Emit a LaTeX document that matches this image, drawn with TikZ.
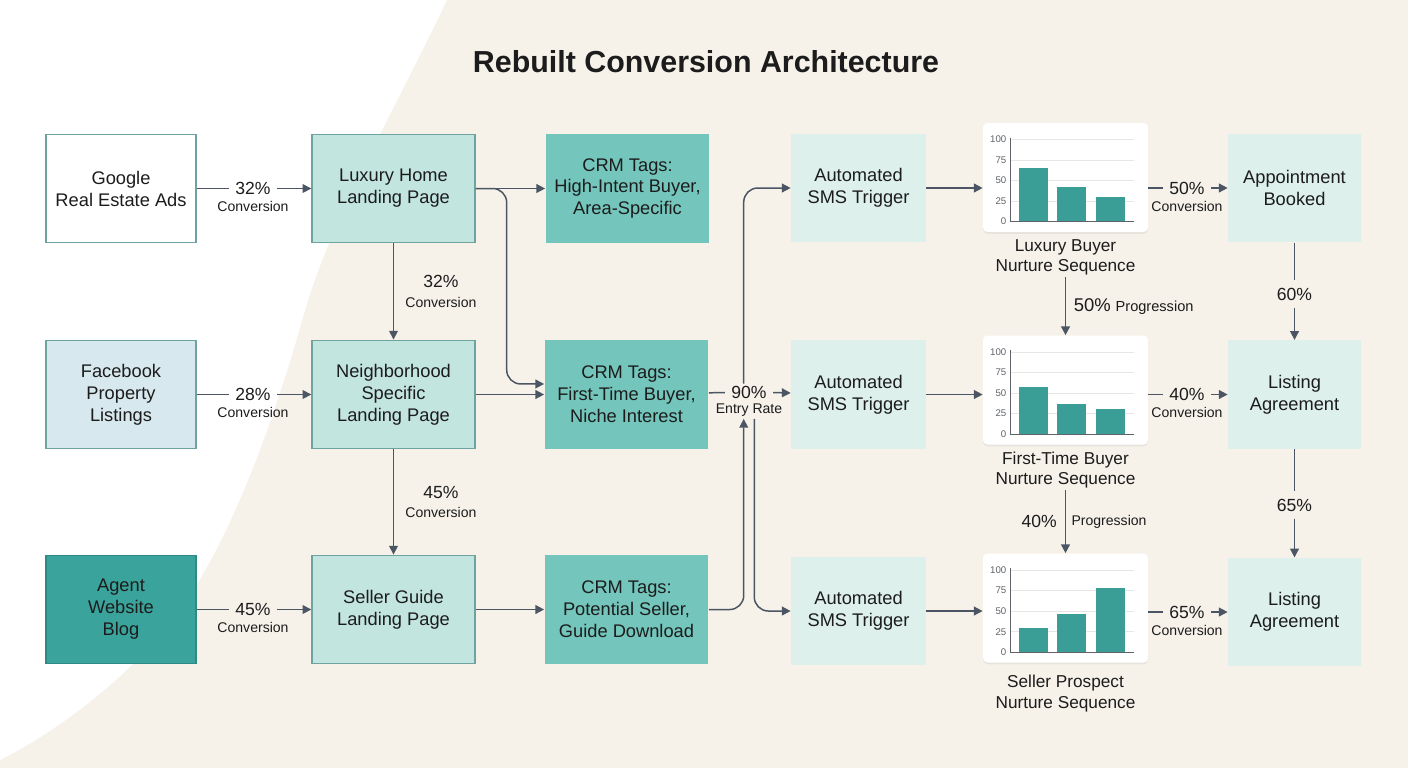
\documentclass[tikz,border=0pt]{standalone}
\usepackage{fontspec}
\setmainfont{Liberation Sans}
\usetikzlibrary{positioning,arrows.meta,shadows}

\definecolor{bgbeige}{HTML}{F6F2EA}
\definecolor{edgeteal}{HTML}{6FA3A0}
\definecolor{fbblue}{HTML}{D7E8EE}
\definecolor{agentteal}{HTML}{3AA39B}
\definecolor{agentedge}{HTML}{2E8A83}
\definecolor{landfill}{HTML}{C3E5E0}
\definecolor{crmfill}{HTML}{74C5BC}
\definecolor{palefill}{HTML}{DDF0EC}
\definecolor{arrowgray}{HTML}{4B5563}
\definecolor{barteal}{HTML}{3A9E96}
\definecolor{inkblack}{HTML}{1C1C1C}
\definecolor{axisgray}{HTML}{5F6368}
\definecolor{gridgray}{HTML}{E6E6E6}

% bar chart inside a card node: #1 card, #2-#4 bar values (0-100)
\newcommand{\nurturebars}[4]{%
  \begin{scope}[shift={(#1.north west)}]
    \foreach \v in {25,50,75,100}
      \draw[gridgray, line width=0.5pt] (28,{99-0.82*\v}) -- (151,{99-0.82*\v});
    \foreach \v in {0,25,50,75,100}
      \node[axislbl] at (24,{99-0.82*\v}) {\v};
    \fill[barteal] (36,99) rectangle (65,{99-0.82*#2});
    \fill[barteal] (74,99) rectangle (103,{99-0.82*#3});
    \fill[barteal] (113,99) rectangle (142,{99-0.82*#4});
    \draw[axisgray, line width=0.6pt] (28,15) -- (28,99) -- (151,99);
  \end{scope}}

\begin{document}
\begin{tikzpicture}[
        x=0.02cm, y=-0.02cm,
        every node/.style={text=inkblack},
        box/.style={rectangle, align=center, minimum height=2.17cm, inner sep=2pt, font=\fontsize{10.4}{12.5}\selectfont},
        source/.style={box, draw=edgeteal, line width=0.8pt, minimum width=3cm},
        landing/.style={box, draw=edgeteal, fill=landfill, line width=0.8pt, minimum width=3.26cm},
        crmtag/.style={box, fill=crmfill, minimum width=3.28cm},
        trigger/.style={box, fill=palefill, minimum width=2.7cm},
        outcome/.style={box, fill=palefill, minimum width=2.66cm},
        chartcard/.style={rectangle, fill=white, rounded corners=2.5pt, minimum width=3.3cm, minimum height=2.18cm, drop shadow={opacity=0.12, shadow xshift=0pt, shadow yshift=-1pt}},
        chartlbl/.style={align=center, font=\fontsize{9.8}{11.4}\selectfont, inner sep=1pt},
        axislbl/.style={anchor=east, text=axisgray, inner sep=0pt, font=\fontsize{5.5}{6}\selectfont},
        pct/.style={font=\fontsize{10}{12}\selectfont, inner xsep=3.5pt, inner ysep=1pt},
        conv/.style={font=\fontsize{8}{9.5}\selectfont, inner sep=1pt},
        link/.style={draw=arrowgray, line width=0.85pt},
        arrow/.style={link, -{Triangle[length=5pt,width=5pt]}},
        title/.style={font=\fontsize{17.3}{20}\selectfont\bfseries}
    ]
        % Background
        \useasboundingbox (0,0) rectangle (1408,768);
        \fill[bgbeige] (0,0) rectangle (1408,768);
        \fill[white] (0,0) -- (447,0) .. controls (395,110) and (335,210) .. (305,310)
            .. controls (280,400) and (240,520) .. (187,600)
            .. controls (140,670) and (60,730) .. (0,760) -- cycle;

        \node[title] (title) at (706,62) {Rebuilt Conversion Architecture};

        % Traffic sources
        \node[source, fill=white] (google) at (121,188.5) {Google\\Real Estate Ads};
        \node[source, fill=fbblue] (facebook) at (121,394.5) {Facebook\\Property\\Listings};
        \node[source, fill=agentteal, draw=agentedge] (agent) at (121,609.5) {Agent\\Website\\Blog};

        % Landing pages
        \node[landing] (luxury) at (393.5,188.5) {Luxury Home\\Landing Page};
        \node[landing] (neighborhood) at (393.5,394.5) {Neighborhood\\Specific\\Landing Page};
        \node[landing] (sellerguide) at (393.5,609.5) {Seller Guide\\Landing Page};

        % CRM tagging
        \node[crmtag] (crmluxury) at (627.5,188.5) {CRM Tags:\\High-Intent Buyer,\\Area-Specific};
        \node[crmtag] (crmfirst) at (626.5,394.5) {CRM Tags:\\First-Time Buyer,\\Niche Interest};
        \node[crmtag] (crmseller) at (626.5,609.5) {CRM Tags:\\Potential Seller,\\Guide Download};

        % SMS triggers
        \node[trigger] (smsluxury) at (858.5,188) {Automated\\SMS Trigger};
        \node[trigger] (smsfirst) at (858.5,394.5) {Automated\\SMS Trigger};
        \node[trigger] (smsseller) at (858.5,611) {Automated\\SMS Trigger};

        % Nurture sequences
        \node[chartcard] (chluxury) at (1065.5,177.5) {};
        \node[chartcard] (chfirst) at (1065.5,390) {};
        \node[chartcard] (chseller) at (1065.5,608) {};
        \nurturebars{chluxury}{65}{42}{30}
        \nurturebars{chfirst}{57}{37}{31}
        \nurturebars{chseller}{29}{47}{78}
        \node[chartlbl, below=3pt of chluxury] (lblluxury) {Luxury Buyer\\Nurture Sequence};
        \node[chartlbl, below=3pt of chfirst] (lblfirst) {First-Time Buyer\\Nurture Sequence};
        \node[chartlbl, below=6pt of chseller] (lblseller) {Seller Prospect\\Nurture Sequence};

        % Outcomes
        \node[outcome] (appointment) at (1294.5,188) {Appointment\\Booked};
        \node[outcome] (listingone) at (1294.5,394.5) {Listing\\Agreement};
        \node[outcome] (listingtwo) at (1294.5,612) {Listing\\Agreement};

        % Source -> landing
        \node[pct] (google32) at (253,188.5) {32\%};
        \node[conv, below=1.5pt of google32] (google32c) {Conversion};
        \node[pct] (facebook28) at (253,394.5) {28\%};
        \node[conv, below=1.5pt of facebook28] (facebook28c) {Conversion};
        \node[pct] (agent45) at (253,609.5) {45\%};
        \node[conv, below=1.5pt of agent45] (agent45c) {Conversion};
        \draw[link] (google) -- (google32);
        \draw[arrow] (google32) -- (luxury);
        \draw[link] (facebook) -- (facebook28);
        \draw[arrow] (facebook28) -- (neighborhood);
        \draw[link] (agent) -- (agent45);
        \draw[arrow] (agent45) -- (sellerguide);

        % Landing -> landing
        \draw[arrow] (luxury) -- node[right=3pt, align=center] (luxury32) {{\fontsize{10}{12}\selectfont 32\%}\\[-1pt]{\fontsize{8}{9.5}\selectfont Conversion}} (neighborhood);
        \draw[arrow] (neighborhood) -- node[right=3pt, align=center] (neighborhood45) {{\fontsize{10}{12}\selectfont 45\%}\\[-1pt]{\fontsize{8}{9.5}\selectfont Conversion}} (sellerguide);

        % Landing -> CRM
        \draw[arrow] (luxury) -- (crmluxury);
        \draw[arrow, rounded corners=8pt] (luxury.east) -- ++(31,0) |- ([yshift=6pt]crmfirst.west);
        \draw[arrow] (neighborhood) -- (crmfirst);
        \draw[arrow] (sellerguide) -- (crmseller);

        % CRM -> SMS
        \node[pct] (entry) at (749,392) {90\%};
        \node[conv, below=1pt of entry] (entryc) {Entry Rate};
        \draw[link] (crmfirst) -- (entry);
        \draw[arrow] (entry) -- (smsfirst);
        \draw[arrow, rounded corners=8pt] ([xshift=-3pt]entry.north) |- (smsluxury);
        \draw[arrow, rounded corners=8pt] (crmseller) -| ([xshift=-3pt]entryc.south);
        \draw[arrow, rounded corners=8pt] ([xshift=3pt]entryc.south) |- (smsseller);

        % SMS -> nurture
        \draw[arrow] (smsluxury) -- (smsluxury -| chluxury.west);
        \draw[arrow] (smsfirst) -- (smsfirst -| chfirst.west);
        \draw[arrow] (smsseller) -- (smsseller -| chseller.west);

        % Nurture progression
        \draw[arrow] (lblluxury) -- node[right=1pt] (progluxury) {{\fontsize{10.5}{12}\selectfont 50\%} {\fontsize{8.3}{10}\selectfont Progression}} (chfirst);
        \draw[arrow] (lblfirst) -- node[pct, left=1pt] (progfirst) {40\%} node[conv, right=2pt] (progfirstc) {Progression} (chseller);

        % Nurture -> outcomes
        \node[pct] (luxury50) at (1187,188) {50\%};
        \node[conv, below=1.5pt of luxury50] (luxury50c) {Conversion};
        \node[pct] (first40) at (1187,394.5) {40\%};
        \node[conv, below=1.5pt of first40] (first40c) {Conversion};
        \node[pct] (seller65) at (1187,612) {65\%};
        \node[conv, below=1.5pt of seller65] (seller65c) {Conversion};
        \draw[link] (chluxury.east |- luxury50) -- (luxury50);
        \draw[arrow] (luxury50) -- (appointment);
        \draw[link] (chfirst.east |- first40) -- (first40);
        \draw[arrow] (first40) -- (listingone);
        \draw[link] (chseller.east |- seller65) -- (seller65);
        \draw[arrow] (seller65) -- (listingtwo);

        % Outcome chain
        \node[pct, inner ysep=4pt] (appt60) at (1294.5,294) {60\%};
        \node[pct, inner ysep=4pt] (listing65) at (1294.5,505) {65\%};
        \draw[link] (appointment) -- (appt60);
        \draw[arrow] (appt60) -- (listingone);
        \draw[link] (listingone) -- (listing65);
        \draw[arrow] (listing65) -- (listingtwo);
\end{tikzpicture}
\end{document}
